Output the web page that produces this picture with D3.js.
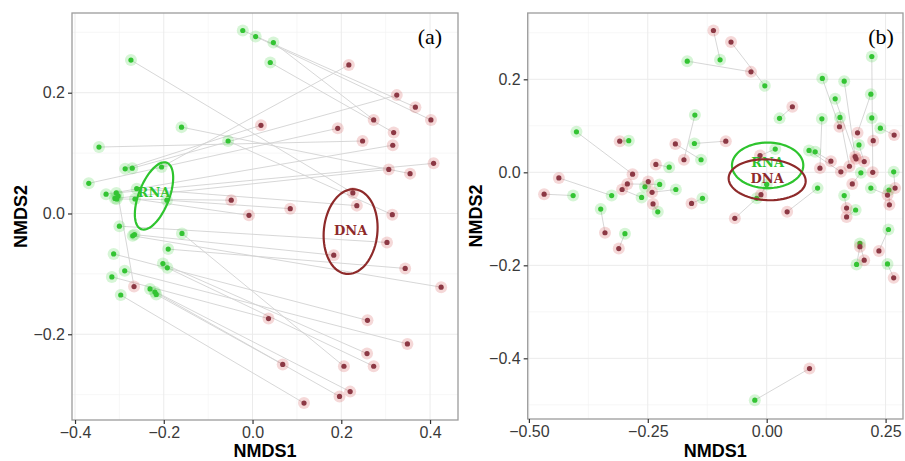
<!DOCTYPE html>
<html>
<head>
<meta charset="utf-8">
<script src="https://cdn.jsdelivr.net/npm/d3@7"></script>
<style>
	body { margin: 0; background: #fff; }
	svg { display: block; font-family: "Liberation Sans", Arial, sans-serif; }
</style>
</head>
<body>
<svg id="chart" width="905" height="461"></svg>
<script>
// panel (a): RNA / DNA scores, paired by index
var rnaA = [
	[-0.022, 0.303], [0.007, 0.293], [0.047, 0.283], [0.040, 0.250], [-0.274, 0.254],
	[-0.205, 0.077], [-0.271, 0.075], [-0.346, 0.110], [-0.160, 0.143], [-0.055, 0.120],
	[-0.287, 0.074], [-0.369, 0.050], [-0.330, 0.032], [-0.307, 0.034], [-0.310, 0.025],
	[-0.261, 0.041], [-0.306, 0.024], [-0.265, 0.024], [-0.193, 0.022], [-0.300, -0.021],
	[-0.270, -0.037], [-0.159, -0.033], [-0.190, -0.059], [-0.313, -0.067], [-0.288, -0.095],
	[-0.202, -0.083], [-0.192, -0.090], [-0.317, -0.105], [-0.231, -0.125], [-0.220, -0.130],
	[-0.217, -0.134], [-0.297, -0.135], [-0.266, -0.035], [-0.303, 0.029]
];
var dnaA = [
	[0.367, 0.176], [0.402, 0.155], [0.273, 0.155], [0.318, 0.134], [0.226, 0.034],
	[0.217, 0.246], [0.325, 0.196], [0.248, 0.120], [0.355, 0.066], [0.315, -0.002],
	[0.019, 0.146], [0.192, 0.141], [0.316, 0.113], [0.408, 0.083], [0.307, 0.073],
	[0.235, 0.013], [-0.048, 0.022], [-0.008, -0.003], [0.085, 0.008], [0.303, -0.048],
	[0.425, -0.122], [0.206, -0.253], [0.344, -0.091], [0.259, -0.177], [0.349, -0.216],
	[0.258, -0.232], [0.273, -0.253], [0.036, -0.174], [0.220, -0.295], [0.196, -0.303],
	[0.068, -0.250], [0.116, -0.314], [0.183, -0.069], [-0.267, -0.121]
];

// panel (b)
var rnaB = [
	[-0.098, 0.242], [-0.004, 0.186], [-0.167, 0.239], [0.027, 0.116], [-0.290, 0.068],
	[-0.138, 0.027], [-0.152, 0.062], [-0.151, 0.123], [-0.205, 0.011], [-0.400, 0.087],
	[-0.326, -0.050], [-0.407, -0.050], [-0.225, -0.026], [-0.263, -0.054], [-0.256, -0.031],
	[-0.191, -0.037], [-0.229, -0.085], [-0.135, -0.056], [-0.021, -0.056], [0.018, 0.050],
	[0.000, -0.026], [0.107, -0.034], [0.116, 0.115], [0.102, 0.044], [0.089, 0.047],
	[0.154, 0.118], [0.163, 0.196], [0.144, 0.158], [0.194, 0.059], [0.198, -0.001],
	[0.117, 0.202], [0.219, 0.168], [0.221, 0.117], [0.239, 0.095], [0.221, 0.249],
	[0.163, -0.050], [0.187, -0.081], [0.219, -0.034], [0.267, 0.001], [0.257, -0.038],
	[-0.349, -0.079], [-0.298, -0.132], [0.189, -0.198], [0.256, -0.123], [0.196, -0.153],
	[0.254, -0.197], [-0.025, -0.490]
];
var dnaB = [
	[-0.112, 0.305], [-0.075, 0.280], [-0.033, 0.216], [0.054, 0.141], [-0.309, 0.067],
	[-0.192, 0.061], [-0.086, 0.067], [-0.174, 0.027], [-0.233, 0.017], [-0.282, -0.004],
	[-0.437, -0.012], [-0.468, -0.047], [-0.293, -0.025], [-0.304, -0.037], [-0.249, -0.020],
	[-0.241, -0.043], [-0.239, -0.068], [-0.158, -0.067], [-0.067, -0.099], [-0.014, 0.036],
	[-0.012, -0.048], [0.043, -0.085], [0.112, 0.009], [0.135, 0.024], [0.156, 0.001],
	[0.174, 0.013], [0.186, 0.034], [0.188, 0.029], [0.205, 0.023], [0.180, -0.025],
	[0.153, 0.098], [0.191, 0.085], [0.224, 0.068], [0.268, 0.080], [0.223, 0.000],
	[0.168, -0.077], [0.168, -0.096], [0.254, -0.049], [0.270, -0.034], [0.258, -0.070],
	[-0.340, -0.130], [-0.311, -0.164], [0.196, -0.160], [0.236, -0.169], [0.205, -0.189],
	[0.267, -0.227], [0.090, -0.422]
];

// group ellipses: centre + two half-axis vectors (data units)
var ellipsesA = [
	{ group: "RNA", cx: -0.222, cy: 0.029, ux: 0.029, uy: 0.055, vx: 0.032, vy: -0.009 },
	{ group: "DNA", cx: 0.221, cy: -0.030, ux: 0.010, uy: 0.070, vx: 0.060, vy: -0.005 }
];
var ellipsesB = [
	{ group: "RNA", cx: 0.002, cy: 0.015, ux: 0.075, uy: 0.000, vx: 0.000, vy: 0.049 },
	{ group: "DNA", cx: 0.001, cy: -0.016, ux: 0.081, uy: -0.003, vx: 0.000, vy: 0.044 }
];

var ticksA = { x: [-0.4, -0.2, 0, 0.2, 0.4], y: [-0.2, 0, 0.2] };
var ticksB = { x: [-0.5, -0.25, 0, 0.25], y: [-0.4, -0.2, 0, 0.2] };

var colors = {
	RNA: { dot: "#33c433", halo: "#33cc33", ell: "#2ec42e" },
	DNA: { dot: "#8c3844", halo: "#cc3a3a", ell: "#8e2a2a" }
};

var svg = d3.select("#chart");

function drawPanel(p) {
	var x = d3.scaleLinear().domain(p.xDomain).range([p.left, p.right]);
	var y = d3.scaleLinear().domain(p.yDomain).range([p.bottom, p.top]);
	var g = svg.append("g");

	// grid, minor first
	g.selectAll(".minx").data(p.minorX).enter().append("line")
		.attr("x1", function(d) { return x(d); }).attr("x2", function(d) { return x(d); })
		.attr("y1", p.top).attr("y2", p.bottom)
		.attr("stroke", "#f3f3f3").attr("stroke-width", 0.7);
	g.selectAll(".miny").data(p.minorY).enter().append("line")
		.attr("y1", function(d) { return y(d); }).attr("y2", function(d) { return y(d); })
		.attr("x1", p.left).attr("x2", p.right)
		.attr("stroke", "#f3f3f3").attr("stroke-width", 0.7);
	g.selectAll(".majx").data(p.ticks.x).enter().append("line")
		.attr("x1", function(d) { return x(d); }).attr("x2", function(d) { return x(d); })
		.attr("y1", p.top).attr("y2", p.bottom)
		.attr("stroke", "#ebebeb").attr("stroke-width", 1);
	g.selectAll(".majy").data(p.ticks.y).enter().append("line")
		.attr("y1", function(d) { return y(d); }).attr("y2", function(d) { return y(d); })
		.attr("x1", p.left).attr("x2", p.right)
		.attr("stroke", "#ebebeb").attr("stroke-width", 1);

	// segments joining RNA and DNA of the same sample
	g.append("g").selectAll("line")
		.data(d3.zip(p.rna, p.dna))
		.enter().append("line")
		.attr("x1", function(d) { return x(d[0][0]); })
		.attr("y1", function(d) { return y(d[0][1]); })
		.attr("x2", function(d) { return x(d[1][0]); })
		.attr("y2", function(d) { return y(d[1][1]); })
		.attr("stroke", "#d2d2d2")
		.attr("stroke-width", 0.9);

	[["RNA", p.rna], ["DNA", p.dna]].forEach(function(s) {
		var c = colors[s[0]];
		var pts = g.append("g");
		pts.selectAll(".halo").data(s[1]).enter().append("circle")
			.attr("cx", function(d) { return x(d[0]); })
			.attr("cy", function(d) { return y(d[1]); })
			.attr("r", 6)
			.attr("fill", c.halo)
			.attr("fill-opacity", 0.2);
		pts.selectAll(".dot").data(s[1]).enter().append("circle")
			.attr("cx", function(d) { return x(d[0]); })
			.attr("cy", function(d) { return y(d[1]); })
			.attr("r", 2.6)
			.attr("fill", c.dot);
	});

	var ellLine = d3.line().curve(d3.curveLinearClosed);
	p.ellipses.forEach(function(e) {
		var pts = d3.range(72).map(function(i) {
			var t = i / 72 * 2 * Math.PI;
			return [
				x(e.cx + e.ux * Math.cos(t) + e.vx * Math.sin(t)),
				y(e.cy + e.uy * Math.cos(t) + e.vy * Math.sin(t))
			];
		});
		g.append("path")
			.attr("d", ellLine(pts))
			.attr("fill", "none")
			.attr("stroke", colors[e.group].ell)
			.attr("stroke-width", 2.2);
		g.append("text")
			.attr("x", x(e.cx))
			.attr("y", y(e.cy) + p.labelDy[e.group])
			.attr("text-anchor", "middle")
			.attr("dominant-baseline", "central")
			.style("font-family", "'DejaVu Serif', serif")
			.style("font-size", "13px")
			.style("font-weight", "bold")
			.attr("fill", colors[e.group].ell)
			.text(e.group);
	});

	// border
	g.append("rect")
		.attr("x", p.left).attr("y", p.top)
		.attr("width", p.right - p.left).attr("height", p.bottom - p.top)
		.attr("fill", "none")
		.attr("stroke", "#9c9c9c")
		.attr("stroke-width", 1.3);

	var ax = g.append("g")
		.attr("transform", "translate(0," + p.bottom + ")")
		.call(d3.axisBottom(x).tickValues(p.ticks.x).tickSize(4).tickFormat(d3.format(p.xFmt)));
	var ay = g.append("g")
		.attr("transform", "translate(" + p.left + ",0)")
		.call(d3.axisLeft(y).tickValues(p.ticks.y).tickSize(4).tickFormat(d3.format(".1f")));
	[ax, ay].forEach(function(a) {
		a.select(".domain").remove();
		a.selectAll(".tick line").attr("stroke", "#333").attr("stroke-width", 1.2);
		a.selectAll(".tick text")
			.attr("fill", "#3a3a3a")
			.style("font-family", "'Liberation Sans', Arial, sans-serif")
			.style("font-size", "16px");
	});

	g.append("text")
		.attr("x", (p.left + p.right) / 2)
		.attr("y", 457)
		.attr("text-anchor", "middle")
		.style("font-size", "18px")
		.style("font-weight", "bold")
		.text("NMDS1");
	g.append("text")
		.attr("transform", "translate(" + p.yTitleX + "," + (p.top + p.bottom) / 2 + ") rotate(-90)")
		.attr("text-anchor", "middle")
		.style("font-size", "18px")
		.style("font-weight", "bold")
		.text("NMDS2");

	g.append("text")
		.attr("x", p.tagX)
		.attr("y", 44)
		.attr("text-anchor", "middle")
		.style("font-family", "'Liberation Serif', 'Times New Roman', serif")
		.style("font-size", "22px")
		.text(p.tag);
}

drawPanel({
	left: 72, right: 458, top: 13, bottom: 420,
	xDomain: [-0.4068, 0.463], yDomain: [-0.342, 0.332],
	ticks: ticksA, minorX: [-0.3, -0.1, 0.1, 0.3], minorY: [-0.3, -0.1, 0.1, 0.3],
	rna: rnaA, dna: dnaA, ellipses: ellipsesA,
	labelDy: { RNA: -3, DNA: -1.5 },
	xFmt: ".1f", yTitleX: 27, tag: "(a)", tagX: 430
});

drawPanel({
	left: 527.7, right: 903, top: 13, bottom: 419,
	xDomain: [-0.5025, 0.2866], yDomain: [-0.5305, 0.3426],
	ticks: ticksB, minorX: [-0.375, -0.125, 0.125], minorY: [-0.5, -0.3, -0.1, 0.1, 0.3],
	rna: rnaB, dna: dnaB, ellipses: ellipsesB,
	labelDy: { RNA: -2.5, DNA: -1.5 },
	xFmt: ".2f", yTitleX: 482, tag: "(b)", tagX: 881
});
</script>
</body>
</html>
